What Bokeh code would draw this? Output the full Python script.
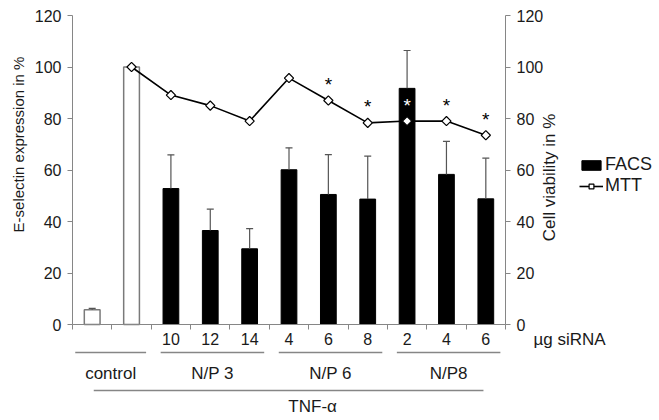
import numpy as np
from bokeh.plotting import figure
from bokeh.models import (Range1d, LinearAxis, FixedTicker, Label, Arrow,
                          Legend, LegendItem)
from bokeh.core.properties import value
from bokeh.embed import file_html
from bokeh.resources import INLINE

# ---------------- data ----------------
categories = ["control", "TNF", "10", "12", "14", "4", "6", "8", "2", "4", "6"]
tick_labels = ["", "", "10", "12", "14", "4", "6", "8", "2", "4", "6"]
facs = [5.7, 100, 52.8, 36.5, 29.4, 60.1, 50.5, 48.7, 91.7, 58.3, 48.8]
facs_err = [0.6, 0.0, 13.1, 8.3, 7.8, 8.5, 15.5, 16.7, 14.7, 12.8, 15.8]
mtt = [None, 100, 89.1, 85.0, 79.0, 95.7, 87.0, 78.3, 79.0, 79.0, 73.5]
significant = [False, False, False, False, False, False, True, True, True, True, True]
groups = ["control", "N/P 3", "N/P 6", "N/P8"]
group_members = [(0, 1), (2, 4), (5, 7), (8, 10)]
treatment_label = "TNF-α"
treatment_members = (1, 10)
unit_label = "µg siRNA"
left_title = "E-selectin expression in %"
right_title = "Cell viability in %"

FONT = "Liberation Sans"
GRAY = "#868686"
TXT = "#1a1a1a"

n = len(categories)
xs = list(range(n))
ctrl_idx = [0, 1]
treat_idx = list(range(2, n))

# the frame fills the whole canvas; axes are pinned with fixed_location
W, H = 659, 420
AX_L, AX_R, AX_B, AX_T = 72, 505, 324, 15      # pixel positions of the axis box
cw = (AX_R - AX_L) / n
yu = (AX_B - AX_T) / 120.0
x_start = -0.5 - AX_L / cw
x_end = -0.5 + (W - AX_L) / cw
y_start = -(H - AX_B) / yu
y_end = AX_B / yu

p = figure(width=W, height=H, title=None,
           x_range=Range1d(x_start, x_end), y_range=Range1d(y_start, y_end),
           output_backend="svg", toolbar_location=None, min_border=0)
p.xgrid.visible = False
p.ygrid.visible = False
p.outline_line_color = None
p.background_fill_color = "white"
p.border_fill_color = "white"

# left axis
ya = p.yaxis[0]
ya.fixed_location = -0.5
ya.bounds = (0, 120)
ya.ticker = FixedTicker(ticks=list(range(0, 121, 20)))
ya.axis_line_color = GRAY
ya.major_tick_line_color = GRAY
ya.major_tick_out = 5
ya.major_tick_in = 0
ya.minor_tick_line_color = None
ya.major_label_standoff = 6
ya.major_label_text_font = FONT
ya.major_label_text_font_size = "16px"
ya.major_label_text_color = TXT

# right axis
ra = LinearAxis(ticker=FixedTicker(ticks=list(range(0, 121, 20))))
ra.fixed_location = n - 0.5
ra.bounds = (0, 120)
ra.axis_line_color = GRAY
ra.major_tick_line_color = GRAY
ra.major_tick_out = 5
ra.major_tick_in = 0
ra.minor_tick_line_color = None
ra.major_label_standoff = 6
ra.major_label_text_font = FONT
ra.major_label_text_font_size = "16px"
ra.major_label_text_color = TXT
p.add_layout(ra, "right")

# bottom axis: labels at centres, ticks at boundaries
xa = p.xaxis[0]
xa.fixed_location = 0
xa.bounds = (-0.5, n - 0.5)
xa.ticker = FixedTicker(ticks=xs, minor_ticks=[i - 0.5 for i in range(n + 1)])
xa.major_label_overrides = {i: t for i, t in enumerate(tick_labels)}
xa.axis_line_color = GRAY
xa.major_tick_line_color = None
xa.major_tick_out = 0
xa.major_tick_in = 0
xa.minor_tick_line_color = GRAY
xa.minor_tick_out = 5
xa.minor_tick_in = 0
xa.major_label_standoff = 3
xa.major_label_text_font = FONT
xa.major_label_text_font_size = "16px"
xa.major_label_text_color = TXT

# bars
p.vbar(x=[xs[i] for i in ctrl_idx], top=[facs[i] for i in ctrl_idx], bottom=0,
       width=0.4, fill_color="white", line_color="#7a7a7a", line_width=1.5)
facs_r = p.vbar(x=[xs[i] for i in treat_idx], top=[facs[i] for i in treat_idx], bottom=0,
                width=0.4, fill_color="black", line_color="black")

# error bars (upper)
eb_idx = [i for i in xs if facs_err[i] > 0]
p.segment(x0=[xs[i] for i in eb_idx], y0=[facs[i] for i in eb_idx],
          x1=[xs[i] for i in eb_idx], y1=[facs[i] + facs_err[i] for i in eb_idx],
          line_color="#555555", line_width=1.2)
p.scatter(x=[xs[i] for i in eb_idx], y=[facs[i] + facs_err[i] for i in eb_idx],
          marker="dash", size=7, line_color="#555555", line_width=1.2)

# MTT line
m_idx = [i for i in xs if mtt[i] is not None]
mx = [xs[i] for i in m_idx]
my = [mtt[i] for i in m_idx]
mtt_line = p.line(mx, my, line_color="black", line_width=1.6)
mtt_pts = p.scatter(mx, my, marker="square", angle=np.pi / 4,
                    size=6.5, fill_color="white", line_color="black", line_width=1.2)

# significance asterisks
s_idx = [i for i in xs if significant[i]]
p.text(x=[xs[i] for i in s_idx], y=[mtt[i] for i in s_idx], text=["*"] * len(s_idx),
       text_color=["white" if facs[i] > mtt[i] else "black" for i in s_idx],
       text_align="center", text_baseline="middle", y_offset=-16,
       text_font=value(FONT), text_font_size="19px")

# group brackets below the axis
line_y = -10.9
label_y = -18.9
for name, (a, b) in zip(groups, group_members):
    x0 = a - 0.5 + (0.07 if a == 0 else 0.24)
    x1 = b + 0.5 - 0.13
    p.add_layout(Arrow(end=None, x_start=x0, y_start=line_y, x_end=x1, y_end=line_y,
                       line_color=GRAY, line_width=1.5))
    p.add_layout(Label(x=(x0 + x1) / 2, y=label_y, text=name, text_align="center",
                       text_baseline="middle", text_font=FONT, text_font_size="17px",
                       text_color=TXT))

ta, tb = treatment_members
p.add_layout(Arrow(end=None, x_start=ta - 0.96, y_start=-25.6, x_end=tb - 0.06, y_end=-25.6,
                   line_color=GRAY, line_width=1.5))
p.add_layout(Label(x=5.6, y=-31.8, text=treatment_label, text_align="center",
                   text_baseline="middle", text_font=FONT, text_font_size="17px",
                   text_color=TXT))
p.add_layout(Label(x=n + 0.21, y=-5.8, text=unit_label, text_align="left",
                   text_baseline="middle", text_font=FONT, text_font_size="17px",
                   text_color=TXT))

# axis titles
p.add_layout(Label(x=-1.88, y=69.9, text=left_title, angle=np.pi / 2,
                   text_align="center", text_baseline="middle", text_font=FONT,
                   text_font_size="15px", text_color=TXT))
p.add_layout(Label(x=n + 0.62, y=57.1, text=right_title, angle=np.pi / 2,
                   text_align="center", text_baseline="middle", text_font=FONT,
                   text_font_size="17px", text_color=TXT))

legend = Legend(items=[LegendItem(label="FACS", renderers=[facs_r]),
                       LegendItem(label="MTT", renderers=[mtt_line, mtt_pts])],
                location=(579, 224), border_line_color=None, background_fill_alpha=0,
                padding=0, margin=0, spacing=0, glyph_width=24, glyph_height=12,
                label_height=17, label_standoff=2, label_text_font=FONT,
                label_text_font_size="18px", label_text_color=TXT)
p.add_layout(legend)

open("out.html", "w").write(file_html(p, INLINE))
